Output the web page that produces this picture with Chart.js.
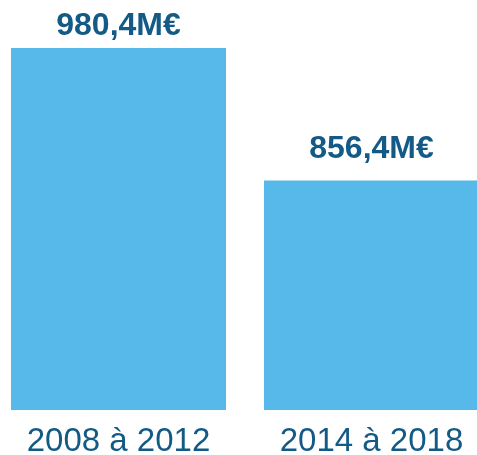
<!DOCTYPE html>
<html>
<head>
<meta charset="utf-8">
<script src="https://cdn.jsdelivr.net/npm/chart.js@4"></script>
<style>
  html, body { margin: 0; padding: 0; background: #ffffff; overflow: hidden; }
  #wrap { position: absolute; left: -8px; top: 0; width: 506px; height: 455px; }
</style>
</head>
<body>
<div id="wrap"><canvas id="c"></canvas></div>
<script>
const categories = ['2008 à 2012', '2014 à 2018'];
const values = [980.4, 856.4];
const valueLabels = ['980,4M€', '856,4M€'];

const labelGap = [13, 23];
const TEXT = '#135a86';
const BAR = '#57b9ea';

const valueLabelPlugin = {
  id: 'valueLabels',
  afterDatasetsDraw(chart) {
    const ctx = chart.ctx;
    const meta = chart.getDatasetMeta(0);
    ctx.save();
    ctx.fillStyle = TEXT;
    ctx.font = 'bold 32px "Liberation Sans", Arial, sans-serif';
    ctx.textAlign = 'center';
    ctx.textBaseline = 'alphabetic';
    meta.data.forEach((bar, i) => {
      ctx.fillText(valueLabels[i], bar.x, bar.y - labelGap[i]);
    });
    ctx.restore();
  }
};

new Chart(document.getElementById('c'), {
  type: 'bar',
  data: {
    labels: categories,
    datasets: [{
      data: values,
      backgroundColor: BAR,
      borderWidth: 0,
      categoryPercentage: 1,
      barPercentage: 0.85
    }]
  },
  options: {
    responsive: true,
    maintainAspectRatio: false,
    animation: false,
    layout: { padding: { top: 48, left: 0, right: 0, bottom: -10.5 } },
    plugins: { legend: { display: false }, tooltip: { enabled: false } },
    scales: {
      x: {
        grid: { display: false },
        border: { display: false },
        ticks: {
          color: TEXT,
          padding: 4,
          font: { family: '"Liberation Sans", Arial, sans-serif', size: 33 }
        }
      },
      y: {
        display: false,
        min: 642,
        max: 980.4
      }
    }
  },
  plugins: [valueLabelPlugin]
});
</script>
</body>
</html>
